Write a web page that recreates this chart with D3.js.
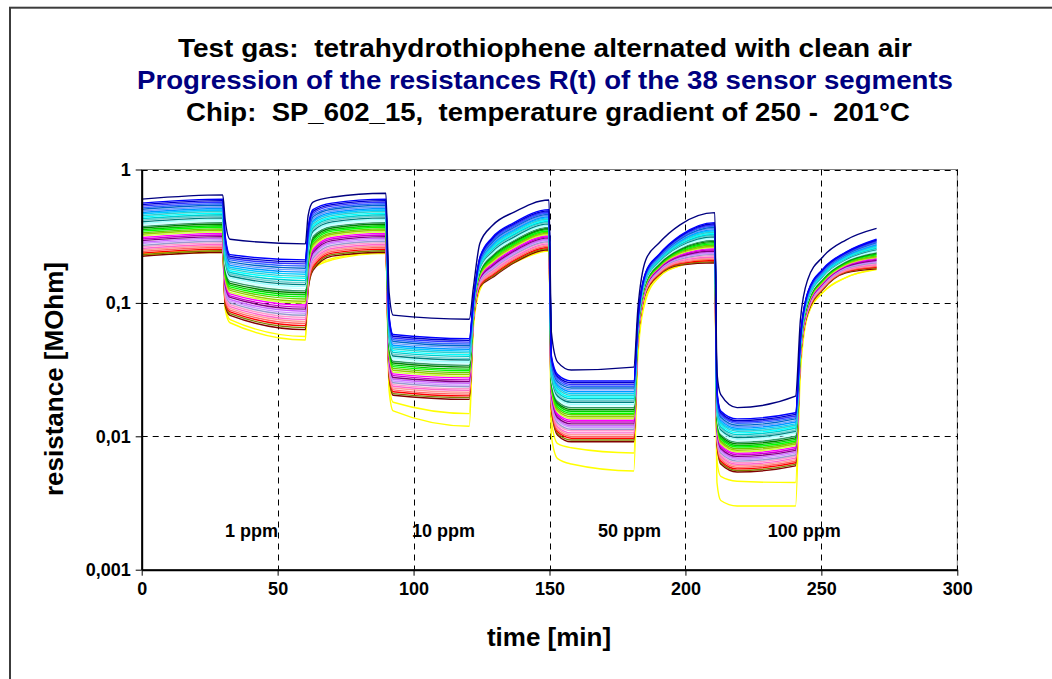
<!DOCTYPE html>
<html>
<head>
<meta charset="utf-8">
<script src="https://cdnjs.cloudflare.com/ajax/libs/d3/7.8.5/d3.min.js"></script>
<style>
  html, body { margin: 0; padding: 0; background: #fff; }
  svg { display: block; font-family: "Liberation Sans", Arial, sans-serif; }
</style>
</head>
<body>
<svg id="chart" width="1052" height="679"></svg>
<script>
// Sampling times [min] shared by all sensor segments
const times = [0, 29.8, 30.7, 32.5, 60.2, 61.2, 63, 70, 89.8, 91, 92.5, 120.5, 122, 124.4, 129, 137, 149.8,
  150.7, 153, 158, 181, 182.5, 185.4, 190.2, 198, 210.8, 211.6, 213, 219, 240.5, 242.3, 245, 250.6, 259, 270.3];

// Resistance R(t) [MOhm] of each of the 38 segments
const s01 = [0.60,0.645,0.42,0.30,0.277,0.45,0.57,0.62,0.663,0.12,0.081,0.0755,0.13,0.28,0.38,0.48,0.59,0.06,0.036,0.0314,0.033,0.09,0.21,0.28,0.385,0.475,0.03,0.0205,0.0164,0.020,0.075,0.15,0.222,0.296,0.362];
const s02 = [0.56,0.60,0.32,0.23,0.21,0.36,0.50,0.56,0.60,0.08,0.058,0.054,0.105,0.22,0.31,0.40,0.50,0.04,0.029,0.026,0.026,0.075,0.17,0.23,0.32,0.40,0.022,0.0155,0.0135,0.015,0.055,0.12,0.18,0.24,0.30];
const s03 = [0.545,0.584,0.309,0.223,0.203,0.349,0.485,0.545,0.584,0.0776,0.0562,0.0524,0.104,0.217,0.304,0.392,0.490,0.0389,0.0281,0.0252,0.0252,0.0742,0.168,0.228,0.315,0.392,0.0214,0.0151,0.0131,0.0146,0.0544,0.119,0.178,0.238,0.296];
const s04 = [0.531,0.569,0.298,0.216,0.196,0.338,0.470,0.531,0.569,0.0752,0.0545,0.0508,0.103,0.213,0.298,0.384,0.480,0.0379,0.0273,0.0244,0.0244,0.0734,0.166,0.225,0.311,0.384,0.0208,0.0147,0.0128,0.0142,0.0539,0.118,0.176,0.235,0.291];
const s05 = [0.516,0.553,0.288,0.210,0.189,0.328,0.456,0.516,0.553,0.0729,0.0529,0.0492,0.102,0.210,0.292,0.376,0.470,0.0369,0.0264,0.0237,0.0237,0.0727,0.165,0.223,0.306,0.376,0.0203,0.0143,0.0125,0.0138,0.0533,0.116,0.174,0.233,0.287];
const s06 = [0.503,0.539,0.278,0.203,0.182,0.318,0.442,0.503,0.539,0.0707,0.0513,0.0477,0.101,0.207,0.286,0.369,0.461,0.0359,0.0256,0.0230,0.0230,0.0719,0.163,0.221,0.301,0.369,0.0197,0.0139,0.0121,0.0135,0.0527,0.115,0.173,0.230,0.283];
const s07 = [0.489,0.524,0.268,0.197,0.176,0.308,0.428,0.489,0.524,0.0686,0.0497,0.0463,0.0996,0.204,0.280,0.361,0.452,0.0350,0.0249,0.0223,0.0223,0.0712,0.161,0.218,0.297,0.361,0.0192,0.0135,0.0118,0.0131,0.0522,0.114,0.171,0.228,0.278];
const s08 = [0.476,0.510,0.259,0.191,0.170,0.299,0.415,0.476,0.510,0.0665,0.0482,0.0449,0.0986,0.201,0.274,0.354,0.442,0.0340,0.0241,0.0216,0.0216,0.0704,0.160,0.216,0.292,0.354,0.0187,0.0132,0.0115,0.0128,0.0516,0.113,0.169,0.225,0.274];
const s09 = [0.464,0.497,0.250,0.185,0.164,0.290,0.403,0.464,0.497,0.0644,0.0467,0.0435,0.0976,0.198,0.269,0.347,0.434,0.0331,0.0234,0.0209,0.0209,0.0697,0.158,0.214,0.288,0.347,0.0182,0.0128,0.0112,0.0124,0.0511,0.112,0.167,0.223,0.270];
const s10 = [0.451,0.484,0.241,0.180,0.158,0.281,0.391,0.451,0.484,0.0625,0.0453,0.0422,0.0965,0.195,0.263,0.340,0.425,0.0322,0.0227,0.0203,0.0203,0.0690,0.156,0.211,0.284,0.340,0.0177,0.0125,0.0109,0.0121,0.0506,0.110,0.166,0.221,0.266];
const s11 = [0.439,0.471,0.233,0.174,0.153,0.273,0.379,0.439,0.471,0.0606,0.0439,0.0409,0.0955,0.192,0.258,0.333,0.416,0.0314,0.0220,0.0197,0.0197,0.0682,0.155,0.209,0.280,0.333,0.0173,0.0122,0.0106,0.0118,0.0500,0.109,0.164,0.218,0.262];
const s12 = [0.428,0.458,0.225,0.169,0.147,0.264,0.367,0.428,0.458,0.0588,0.0426,0.0397,0.0945,0.189,0.253,0.326,0.408,0.0305,0.0213,0.0191,0.0191,0.0675,0.153,0.207,0.275,0.326,0.0168,0.0118,0.0103,0.0115,0.0495,0.108,0.162,0.216,0.258];
const s13 = [0.416,0.446,0.217,0.164,0.142,0.256,0.356,0.416,0.446,0.0570,0.0413,0.0384,0.0936,0.186,0.248,0.320,0.400,0.0297,0.0206,0.0185,0.0185,0.0668,0.151,0.205,0.271,0.320,0.0164,0.0115,0.0100,0.0111,0.0490,0.107,0.160,0.214,0.254];
const s14 = [0.405,0.434,0.209,0.159,0.137,0.249,0.345,0.405,0.434,0.0552,0.0400,0.0373,0.0926,0.184,0.243,0.313,0.391,0.0289,0.0200,0.0180,0.0180,0.0661,0.150,0.203,0.267,0.313,0.0159,0.0112,0.00977,0.0109,0.0485,0.106,0.159,0.212,0.251];
const s15 = [0.394,0.423,0.202,0.154,0.133,0.241,0.335,0.394,0.423,0.0536,0.0388,0.0361,0.0916,0.181,0.238,0.307,0.384,0.0282,0.0194,0.0174,0.0174,0.0654,0.148,0.201,0.263,0.307,0.0155,0.0109,0.00951,0.0106,0.0480,0.105,0.157,0.209,0.247];
const s16 = [0.384,0.411,0.195,0.149,0.128,0.234,0.325,0.384,0.411,0.0519,0.0376,0.0351,0.0907,0.178,0.233,0.301,0.376,0.0274,0.0188,0.0169,0.0169,0.0648,0.147,0.199,0.259,0.301,0.0151,0.0106,0.00925,0.0103,0.0475,0.104,0.155,0.207,0.243];
const s17 = [0.374,0.400,0.188,0.145,0.123,0.227,0.315,0.374,0.400,0.0503,0.0365,0.0340,0.0897,0.176,0.228,0.295,0.368,0.0267,0.0182,0.0164,0.0164,0.0641,0.145,0.197,0.255,0.295,0.0147,0.0103,0.00901,0.0100,0.0470,0.103,0.154,0.205,0.239];
const s18 = [0.364,0.390,0.182,0.140,0.119,0.220,0.305,0.364,0.390,0.0488,0.0354,0.0330,0.0888,0.173,0.224,0.289,0.361,0.0260,0.0177,0.0159,0.0159,0.0634,0.144,0.194,0.252,0.289,0.0143,0.0101,0.00877,0.00974,0.0465,0.101,0.152,0.203,0.236];
const s19 = [0.354,0.379,0.175,0.136,0.115,0.213,0.296,0.354,0.379,0.0473,0.0343,0.0319,0.0879,0.170,0.219,0.283,0.354,0.0253,0.0172,0.0154,0.0154,0.0628,0.142,0.192,0.248,0.283,0.0139,0.00980,0.00853,0.00948,0.0460,0.100,0.151,0.201,0.232];
const s20 = [0.345,0.369,0.169,0.132,0.111,0.206,0.287,0.345,0.369,0.0459,0.0333,0.0310,0.0869,0.168,0.215,0.277,0.346,0.0246,0.0166,0.0149,0.0149,0.0621,0.141,0.190,0.244,0.277,0.0135,0.00954,0.00831,0.00923,0.0455,0.0993,0.149,0.199,0.229];
const s21 = [0.335,0.359,0.163,0.128,0.107,0.200,0.278,0.335,0.359,0.0445,0.0323,0.0300,0.0860,0.165,0.210,0.272,0.339,0.0240,0.0161,0.0145,0.0145,0.0614,0.139,0.188,0.241,0.272,0.0132,0.00928,0.00809,0.00899,0.0451,0.0983,0.147,0.197,0.225];
const s22 = [0.327,0.350,0.158,0.124,0.103,0.194,0.270,0.327,0.350,0.0431,0.0313,0.0291,0.0851,0.163,0.206,0.266,0.333,0.0233,0.0156,0.0140,0.0140,0.0608,0.138,0.186,0.237,0.266,0.0128,0.00904,0.00787,0.00875,0.0446,0.0973,0.146,0.195,0.222];
const s23 = [0.318,0.341,0.152,0.120,0.0998,0.188,0.261,0.318,0.341,0.0418,0.0303,0.0282,0.0842,0.160,0.202,0.261,0.326,0.0227,0.0152,0.0136,0.0136,0.0602,0.136,0.185,0.233,0.261,0.0125,0.00880,0.00766,0.00851,0.0441,0.0963,0.144,0.193,0.219];
const s24 = [0.309,0.332,0.147,0.117,0.0964,0.183,0.254,0.309,0.332,0.0406,0.0294,0.0274,0.0834,0.158,0.198,0.255,0.319,0.0221,0.0147,0.0132,0.0132,0.0596,0.135,0.183,0.230,0.255,0.0122,0.00856,0.00746,0.00829,0.0437,0.0953,0.143,0.191,0.216];
const s25 = [0.301,0.323,0.142,0.113,0.0930,0.177,0.246,0.301,0.323,0.0393,0.0285,0.0265,0.0825,0.156,0.194,0.250,0.313,0.0215,0.0143,0.0128,0.0128,0.0589,0.134,0.181,0.226,0.250,0.0118,0.00834,0.00726,0.00807,0.0432,0.0943,0.141,0.189,0.212];
const s26 = [0.293,0.314,0.137,0.110,0.0898,0.172,0.238,0.293,0.314,0.0381,0.0276,0.0257,0.0816,0.153,0.190,0.245,0.307,0.0209,0.0138,0.0124,0.0124,0.0583,0.132,0.179,0.223,0.245,0.0115,0.00811,0.00707,0.00785,0.0428,0.0933,0.140,0.187,0.209];
const s27 = [0.285,0.306,0.132,0.106,0.0866,0.166,0.231,0.285,0.306,0.0370,0.0268,0.0250,0.0808,0.151,0.186,0.240,0.300,0.0204,0.0134,0.0120,0.0120,0.0577,0.131,0.177,0.220,0.240,0.0112,0.00790,0.00688,0.00764,0.0423,0.0923,0.138,0.185,0.206];
const s28 = [0.278,0.298,0.127,0.103,0.0836,0.161,0.224,0.278,0.298,0.0358,0.0260,0.0242,0.0799,0.149,0.182,0.235,0.294,0.0198,0.0130,0.0117,0.0117,0.0571,0.129,0.175,0.217,0.235,0.0109,0.00769,0.00670,0.00744,0.0419,0.0914,0.137,0.183,0.203];
const s29 = [0.270,0.290,0.123,0.0999,0.0807,0.156,0.217,0.270,0.290,0.0348,0.0252,0.0235,0.0791,0.147,0.179,0.231,0.288,0.0193,0.0126,0.0113,0.0113,0.0565,0.128,0.173,0.213,0.231,0.0106,0.00748,0.00652,0.00724,0.0414,0.0904,0.136,0.181,0.200];
const s30 = [0.263,0.282,0.119,0.0969,0.0779,0.152,0.211,0.263,0.282,0.0337,0.0244,0.0227,0.0783,0.144,0.175,0.226,0.283,0.0188,0.0122,0.0110,0.0110,0.0559,0.127,0.171,0.210,0.226,0.0103,0.00728,0.00634,0.00705,0.0410,0.0895,0.134,0.179,0.197];
const s31 = [0.256,0.274,0.115,0.0939,0.0752,0.147,0.204,0.256,0.274,0.0327,0.0237,0.0221,0.0775,0.142,0.172,0.221,0.277,0.0183,0.0118,0.0106,0.0106,0.0553,0.125,0.170,0.207,0.221,0.0101,0.00709,0.00617,0.00686,0.0406,0.0885,0.133,0.177,0.194];
const s32 = [0.249,0.267,0.111,0.0911,0.0726,0.143,0.198,0.249,0.267,0.0317,0.0230,0.0214,0.0767,0.140,0.168,0.217,0.271,0.0178,0.0115,0.0103,0.0103,0.0548,0.124,0.168,0.204,0.217,0.00979,0.00690,0.00601,0.00668,0.0402,0.0876,0.131,0.175,0.191];
const s33 = [0.243,0.260,0.107,0.0883,0.0701,0.138,0.192,0.243,0.260,0.0307,0.0223,0.0207,0.0759,0.138,0.165,0.213,0.266,0.0173,0.0111,0.00998,0.00998,0.0542,0.123,0.166,0.201,0.213,0.00953,0.00672,0.00585,0.00650,0.0397,0.0867,0.130,0.173,0.188];
const s34 = [0.236,0.253,0.103,0.0856,0.0676,0.134,0.186,0.236,0.253,0.0298,0.0216,0.0201,0.0751,0.136,0.161,0.208,0.260,0.0169,0.0108,0.00968,0.00968,0.0536,0.122,0.164,0.198,0.208,0.00928,0.00654,0.00570,0.00633,0.0393,0.0858,0.129,0.172,0.185];
const s35 = [0.230,0.246,0.0995,0.0830,0.0653,0.130,0.181,0.230,0.246,0.0289,0.0209,0.0195,0.0743,0.134,0.158,0.204,0.255,0.0164,0.0105,0.00939,0.00939,0.0531,0.120,0.163,0.195,0.204,0.00903,0.00636,0.00554,0.00616,0.0389,0.0849,0.127,0.170,0.183];
const s36 = [0.224,0.240,0.096,0.0805,0.063,0.126,0.175,0.224,0.240,0.028,0.0203,0.0189,0.0735,0.132,0.155,0.200,0.250,0.0160,0.0102,0.0091,0.0091,0.0525,0.119,0.161,0.192,0.200,0.00880,0.00620,0.00540,0.00600,0.0385,0.084,0.126,0.168,0.180];
const s37 = [0.235,0.245,0.095,0.075,0.056,0.13,0.185,0.215,0.24,0.025,0.018,0.0148,0.07,0.13,0.17,0.205,0.25,0.013,0.0088,0.0082,0.0075,0.045,0.11,0.16,0.19,0.215,0.0065,0.005,0.0046,0.0045,0.035,0.085,0.12,0.155,0.18];
const s38 = [0.228,0.24,0.09,0.071,0.0527,0.125,0.18,0.21,0.235,0.022,0.0155,0.0119,0.065,0.125,0.165,0.20,0.245,0.01,0.0068,0.0062,0.0055,0.04,0.105,0.155,0.19,0.21,0.0045,0.0033,0.0030,0.0030,0.03,0.08,0.12,0.155,0.178];

const segments = [s01,s02,s03,s04,s05,s06,s07,s08,s09,s10,s11,s12,s13,s14,s15,s16,s17,s18,s19,
  s20,s21,s22,s23,s24,s25,s26,s27,s28,s29,s30,s31,s32,s33,s34,s35,s36,s37,s38];
const segmentColors = ["#000080","#0000FF","#0000CC","#3333FF","#3366FF","#0066CC","#6699FF","#0099FF",
  "#00CCFF","#33CCCC","#00FFFF","#00CCCC","#66CCCC","#008080","#99FFFF","#CCFFFF","#339966","#008000",
  "#00CC00","#00FF00","#66CC00","#99CC00","#CCFF33","#FF00FF","#CC00CC","#800080","#CC66FF","#CC99FF",
  "#9999CC","#FF99CC","#FF66CC","#FF9999","#FF6666","#FF0000","#808000","#800000","#FFFF00","#FFFF00"];

const xTicks = [0, 50, 100, 150, 200, 250, 300];
const yTicks = [0.001, 0.01, 0.1, 1];
const yTickLabels = ["0,001", "0,01", "0,1", "1"];
const gasLabels = ["1 ppm", "10 ppm", "50 ppm", "100 ppm"];
const gasLabelStart = [30.6, 99.4, 167.8, 230.3];
const titleLines = [
  "Test gas:  tetrahydrothiophene alternated with clean air",
  "Progression of the resistances R(t) of the 38 sensor segments",
  "Chip:  SP_602_15,  temperature gradient of 250 -  201°C"
];

const W = 1052, H = 679;
const svg = d3.select("#chart");
const x = d3.scaleLinear().domain([0, 300]).range([141.7, 957.3]);
const y = d3.scaleLog().domain([0.001, 1]).range([569.7, 169.5]);

svg.append("rect").attr("width", W).attr("height", H).attr("fill", "#fff");
// outer chart frame
svg.append("rect").attr("x", 10).attr("y", 7.7).attr("width", 1100).attr("height", 700)
  .attr("fill", "none").attr("stroke", "#3c3c3c").attr("stroke-width", 2);

// title block
const titleSpec = [
  {y: 57, color: "#000000", len: 734, cx: 545},
  {y: 89, color: "#000080", len: 816, cx: 545},
  {y: 121, color: "#000000", len: 724, cx: 548}
];
titleLines.forEach((t, i) => {
  svg.append("text").attr("x", titleSpec[i].cx).attr("y", titleSpec[i].y)
    .attr("text-anchor", "middle").attr("font-size", 26).attr("font-weight", "bold")
    .attr("fill", titleSpec[i].color)
    .attr("textLength", titleSpec[i].len).attr("lengthAdjust", "spacingAndGlyphs")
    .style("white-space", "pre").text(t);
});

// plot area
svg.append("rect").attr("x", x(0)).attr("y", y(1)).attr("width", x(300) - x(0))
  .attr("height", y(0.001) - y(1)).attr("fill", "#fff").attr("stroke", "#808080").attr("stroke-width", 1);

const grid = svg.append("g").attr("stroke", "#000").attr("stroke-width", 1).attr("stroke-dasharray", "6,5");
grid.selectAll("line.v").data(xTicks.slice(1)).join("line").attr("class", "v")
  .attr("x1", d => Math.round(x(d)) + 0.5).attr("x2", d => Math.round(x(d)) + 0.5)
  .attr("y1", y(1)).attr("y2", y(0.001));
grid.selectAll("line.h").data(yTicks.slice(1)).join("line").attr("class", "h")
  .attr("x1", x(0)).attr("x2", x(300))
  .attr("y1", d => Math.round(y(d)) + 0.5).attr("y2", d => Math.round(y(d)) + 0.5);

// resistance curves
const line = d3.line().x((d, i) => x(times[i])).y(d => y(d)).curve(d3.curveMonotoneX);
const drawOrder = [37, 36].concat(d3.range(35, 0, -1), [0]);
svg.append("g").selectAll("path").data(drawOrder).join("path")
  .attr("d", k => line(segments[k]))
  .attr("fill", "none").attr("stroke", k => segmentColors[k])
  .attr("stroke-width", 1.4).attr("stroke-linejoin", "round");

// axes
const xAxis = d3.axisBottom(x).tickValues(xTicks).tickSize(6).tickSizeOuter(0).tickPadding(7);
const gx = svg.append("g").attr("transform", `translate(0,${y(0.001)})`).call(xAxis);
gx.select(".domain").attr("stroke", "#000").attr("stroke-width", 2);
gx.selectAll(".tick line").attr("stroke", "#000").attr("stroke-width", 1);
gx.selectAll(".tick text").attr("font-size", 18).attr("font-weight", "bold")
  .attr("font-family", "Liberation Sans, Arial, sans-serif").attr("fill", "#000");

const yAxis = d3.axisLeft(y).tickValues(yTicks).tickFormat((d, i) => yTickLabels[i])
  .tickSize(6).tickSizeOuter(0).tickPadding(5);
const gy = svg.append("g").attr("transform", `translate(${x(0)},0)`).call(yAxis);
gy.select(".domain").attr("stroke", "#000").attr("stroke-width", 2);
gy.selectAll(".tick line").attr("stroke", "#000").attr("stroke-width", 1);
gy.selectAll(".tick text").attr("font-size", 18).attr("font-weight", "bold")
  .attr("font-family", "Liberation Sans, Arial, sans-serif").attr("fill", "#000");

// concentration labels
svg.append("g").selectAll("text").data(gasLabels).join("text")
  .attr("x", (d, i) => x(gasLabelStart[i])).attr("y", 537)
  .attr("font-size", 18).attr("font-weight", "bold").attr("fill", "#000")
  .text(d => d);

// axis titles
svg.append("text").attr("x", 549).attr("y", 646).attr("text-anchor", "middle")
  .attr("font-size", 26).attr("font-weight", "bold").attr("fill", "#000").text("time [min]");
svg.append("text").attr("transform", "translate(63,379) rotate(-90)").attr("text-anchor", "middle")
  .attr("font-size", 26).attr("font-weight", "bold").attr("fill", "#000").text("resistance [MOhm]");
</script>
</body>
</html>
